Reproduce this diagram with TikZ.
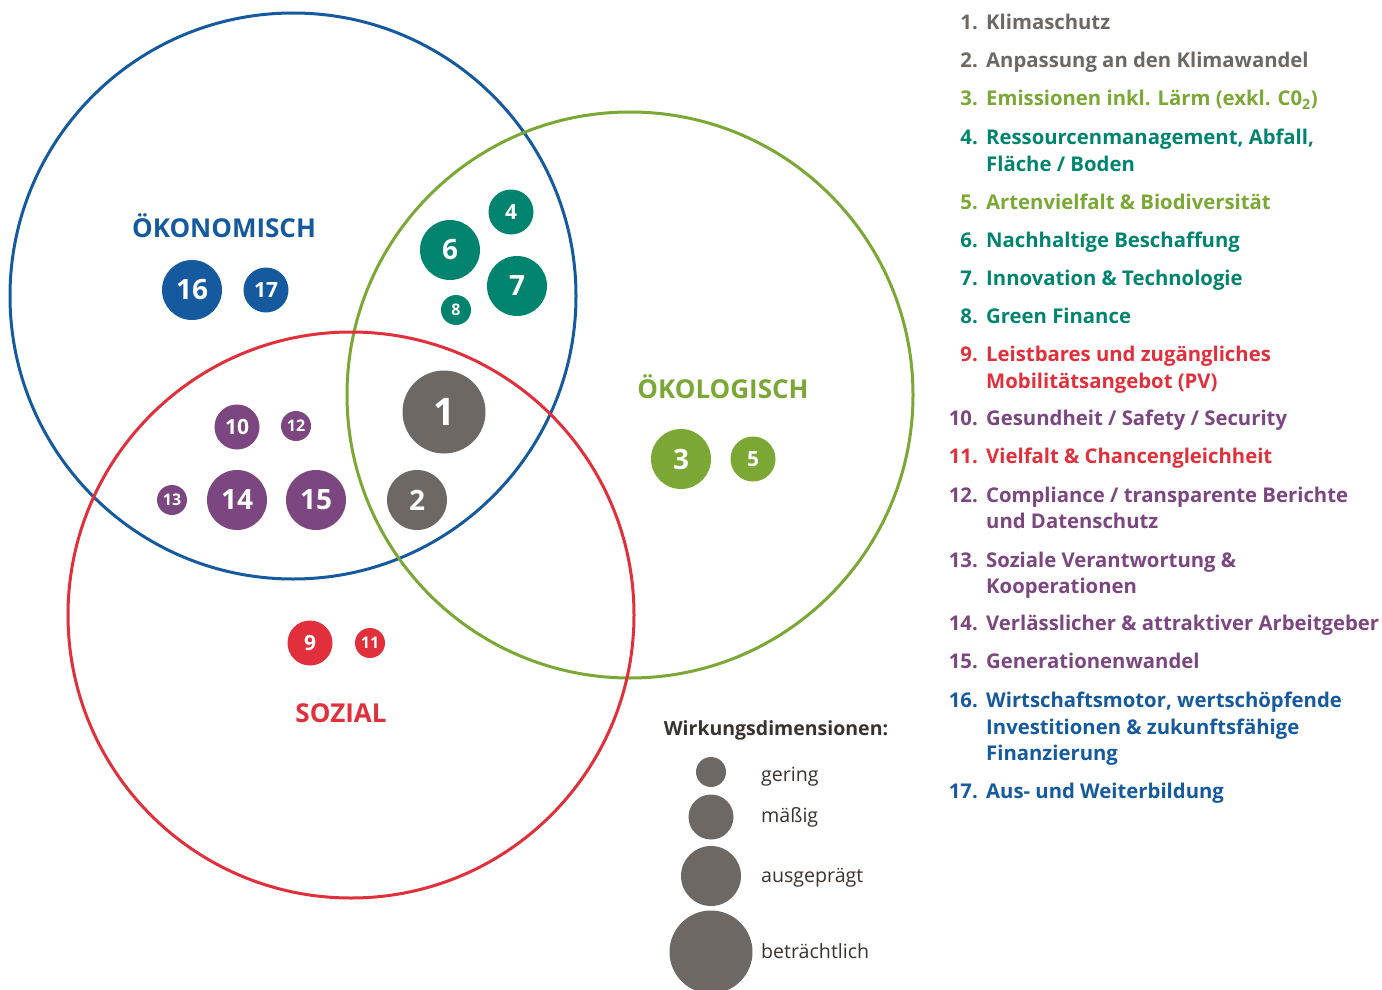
\documentclass[tikz,border=0pt]{standalone}
\usepackage{fontspec}
\setmainfont{Open Sans}
\usetikzlibrary{positioning}

\definecolor{wBlue}{HTML}{155A9E}
\definecolor{wLeaf}{HTML}{7BA735}
\definecolor{wRed}{HTML}{E1303B}
\definecolor{wTeal}{HTML}{00846F}
\definecolor{wPurple}{HTML}{7C4680}
\definecolor{wGrey}{HTML}{6D6864}
\definecolor{wDark}{HTML}{3A322E}

\begin{document}
\begin{tikzpicture}
  [
    x = 1pt, y = -1pt,
    ring/.style = {draw, circle, line width = 3pt, inner sep = 0pt, minimum size = 566pt},
    field/.style = {anchor = base, font = \bfseries\fontsize{26}{30}\selectfont},
    dot/.style = {circle, inner sep = 0pt, text = white},
    dotS/.style = {dot, minimum size = 30pt, font = \bfseries\fontsize{16}{16}\selectfont},
    dotM/.style = {dot, minimum size = 45pt, font = \bfseries\fontsize{21}{21}\selectfont},
    dotL/.style = {dot, minimum size = 60pt, font = \bfseries\fontsize{28}{28}\selectfont},
    dotXL/.style = {dot, minimum size = 83pt, font = \bfseries\fontsize{38}{38}\selectfont},
    num/.style = {anchor = base east, inner sep = 0pt, font = \bfseries\fontsize{20.3}{24}\selectfont},
    item/.style = {anchor = base west, inner sep = 0pt, font = \bfseries\fontsize{20.3}{24}\selectfont},
    key/.style = {anchor = base west, inner sep = 0pt, text = wDark, font = \fontsize{19.6}{22}\selectfont}
  ]
  \useasboundingbox (0,0) rectangle (1382,990);
  \clip (0,0) rectangle (1382,990);
  \fill[white] (0,0) rectangle (1382,990);

  % the three dimensions
  \node[ring, wBlue] (oek) at (293,296) {};
  \node[ring, wLeaf] (eco) at (630,395) {};
  \node[ring, wRed]  (soz) at (351,615) {};

  \node[field, wBlue] (oekLabel) at (224,237) {ÖKONOMISCH};
  \node[field, wLeaf] (ecoLabel) at (723,398) {ÖKOLOGISCH};
  \node[field, wRed]  (sozLabel) at (341,722) {SOZIAL};

  % topics
  \node[dotXL, fill = wGrey]   (b1)  at (444,412) {1};
  \node[dotL,  fill = wGrey]   (b2)  at (417,500) {2};
  \node[dotL,  fill = wLeaf]   (b3)  at (681,459) {3};
  \node[dotM,  fill = wTeal]   (b4)  at (511,212) {4};
  \node[dotM,  fill = wLeaf]   (b5)  at (753,459) {5};
  \node[dotL,  fill = wTeal]   (b6)  at (450,250) {6};
  \node[dotL,  fill = wTeal]   (b7)  at (517,286) {7};
  \node[dotS,  fill = wTeal]   (b8)  at (456,310) {8};
  \node[dotM,  fill = wRed]    (b9)  at (310,643) {9};
  \node[dotM,  fill = wPurple] (b10) at (237,427) {10};
  \node[dotS,  fill = wRed]    (b11) at (370,643) {11};
  \node[dotS,  fill = wPurple] (b12) at (296,426) {12};
  \node[dotS,  fill = wPurple] (b13) at (172,500) {13};
  \node[dotL,  fill = wPurple] (b14) at (237,500) {14};
  \node[dotL,  fill = wPurple] (b15) at (316,500) {15};
  \node[dotL,  fill = wBlue]   (b16) at (192,290) {16};
  \node[dotM,  fill = wBlue]   (b17) at (266,290) {17};

  % legend
  \node[anchor = base, inner sep = 0pt, text = wDark, font = \bfseries\fontsize{19.5}{22}\selectfont]
    (keyTitle) at (776,735) {Wirkungsdimensionen:};
  \node[dotS,  fill = wGrey] (k1) at (711,772) {};
  \node[dotM,  fill = wGrey] (k2) at (711,817) {};
  \node[dotL,  fill = wGrey] (k3) at (711,876) {};
  \node[dotXL, fill = wGrey] (k4) at (711,952) {};
  \node[key] (k1Text) at (761,781) {gering};
  \node[key] (k2Text) at (761,822) {mäßig};
  \node[key] (k3Text) at (761,882) {ausgeprägt};
  \node[key] (k4Text) at (761,958) {beträchtlich};

  % list of topics
  \node[num,  wGrey] (n1) at (978,30) {1.};
  \node[item, wGrey] (t1) at (986,30) {Klimaschutz};
  \node[num,  wGrey] (n2) at (978,68) {2.};
  \node[item, wGrey] (t2) at (986,68) {Anpassung an den Klimawandel};
  \node[num,  wLeaf] (n3) at (978,106) {3.};
  \node[item, wLeaf] (t3) at (986,106) {Emissionen inkl. Lärm (exkl. C0\textsubscript{2})};
  \node[num,  wTeal] (n4) at (978,144) {4.};
  \node[item, wTeal] (t4) at (986,144) {Ressourcenmanagement, Abfall,};
  \node[item, wTeal] (t4b) at (986,171) {Fläche / Boden};
  \node[num,  wLeaf] (n5) at (978,209) {5.};
  \node[item, wLeaf] (t5) at (986,209) {Artenvielfalt \& Biodiversität};
  \node[num,  wTeal] (n6) at (978,247) {6.};
  \node[item, wTeal] (t6) at (986,247) {Nachhaltige Beschaffung};
  \node[num,  wTeal] (n7) at (978,285) {7.};
  \node[item, wTeal] (t7) at (986,285) {Innovation \& Technologie};
  \node[num,  wTeal] (n8) at (978,323) {8.};
  \node[item, wTeal] (t8) at (986,323) {Green Finance};
  \node[num,  wRed]  (n9) at (978,361) {9.};
  \node[item, wRed]  (t9) at (986,361) {Leistbares und zugängliches};
  \node[item, wRed]  (t9b) at (986,388) {Mobilitätsangebot (PV)};
  \node[num,  wPurple] (n10) at (978,425) {10.};
  \node[item, wPurple] (t10) at (986,425) {Gesundheit / Safety / Security};
  \node[num,  wRed]    (n11) at (978,463) {11.};
  \node[item, wRed]    (t11) at (986,463) {Vielfalt \& Chancengleichheit};
  \node[num,  wPurple] (n12) at (978,502) {12.};
  \node[item, wPurple] (t12) at (986,502) {Compliance / transparente Berichte};
  \node[item, wPurple] (t12b) at (986,528) {und Datenschutz};
  \node[num,  wPurple] (n13) at (978,567) {13.};
  \node[item, wPurple] (t13) at (986,567) {Soziale Verantwortung \&};
  \node[item, wPurple] (t13b) at (986,593) {Kooperationen};
  \node[num,  wPurple] (n14) at (978,630) {14.};
  \node[item, wPurple] (t14) at (986,630) {Verlässlicher \& attraktiver Arbeitgeber};
  \node[num,  wPurple] (n15) at (978,668) {15.};
  \node[item, wPurple] (t15) at (986,668) {Generationenwandel};
  \node[num,  wBlue] (n16) at (978,707) {16.};
  \node[item, wBlue] (t16) at (986,707) {Wirtschaftsmotor, wertschöpfende};
  \node[item, wBlue] (t16b) at (986,734) {Investitionen \& zukunftsfähige};
  \node[item, wBlue] (t16c) at (986,760) {Finanzierung};
  \node[num,  wBlue] (n17) at (978,798) {17.};
  \node[item, wBlue] (t17) at (986,798) {Aus- und Weiterbildung};
\end{tikzpicture}
\end{document}
